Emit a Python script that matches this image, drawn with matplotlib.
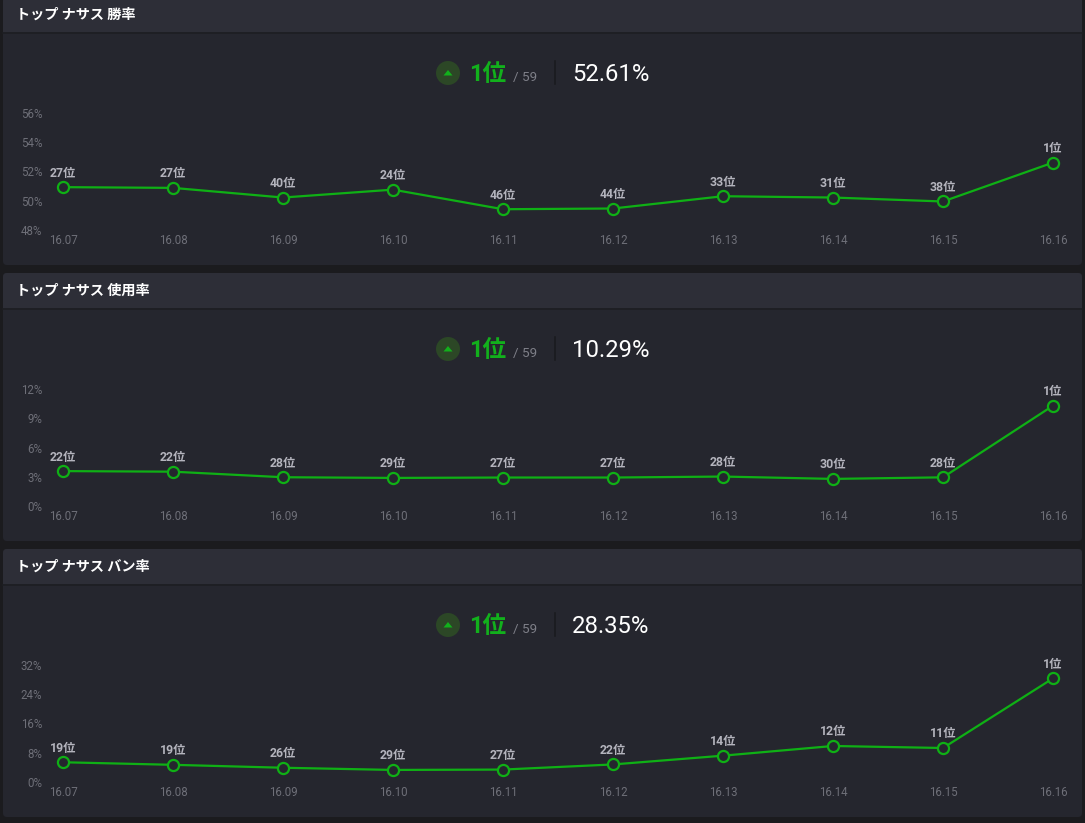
import matplotlib
matplotlib.use("Agg")
import matplotlib.pyplot as plt
from matplotlib.patches import FancyBboxPatch, Rectangle, Circle, Polygon

# ---------------- data ----------------
patches_lbl = ["16.07", "16.08", "16.09", "16.10", "16.11", "16.12", "16.13", "16.14", "16.15", "16.16"]

titles = ["トップ ナサス 勝率", "トップ ナサス 使用率", "トップ ナサス バン率"]
current_rank = ["1位", "1位", "1位"]
total_count = "/ 59"
current_value = ["52.61%", "10.29%", "28.35%"]

win_rate = [50.93, 50.88, 50.22, 50.76, 49.42, 49.47, 50.31, 50.22, 49.95, 52.61]
win_rank = ["27位", "27位", "40位", "24位", "46位", "44位", "33位", "31位", "38位", "1位"]
win_ticks = [48, 50, 52, 54, 56]

pick_rate = [3.58, 3.52, 2.95, 2.88, 2.92, 2.92, 3.02, 2.78, 2.94, 10.29]
pick_rank = ["22位", "22位", "28位", "29位", "27位", "27位", "28位", "30位", "28位", "1位"]
pick_ticks = [0, 3, 6, 9, 12]

ban_rate = [5.4, 4.7, 3.9, 3.3, 3.4, 4.8, 7.2, 9.85, 9.3, 28.35]
ban_rank = ["19位", "19位", "26位", "29位", "27位", "22位", "14位", "12位", "11位", "1位"]
ban_ticks = [0, 8, 16, 24, 32]

series = [(win_rate, win_rank, win_ticks),
          (pick_rate, pick_rank, pick_ticks),
          (ban_rate, ban_rank, ban_ticks)]

# ---------------- style ----------------
W, H = 1085, 823
FIG_BG = "#1b1b1e"
BODY = "#25262e"
HEADER = "#2d2e37"
HEADER_LINE = "#1d1e23"
GREEN = "#12b01c"
LINE_GREEN = "#0fb015"
BADGE = "#2c4726"
TICK_C = "#6e6f78"
RANK_C = "#b4b4bd"

JP = ["Noto Sans CJK JP", "DejaVu Sans"]
NUM = ["Roboto", "Noto Sans CJK JP", "DejaVu Sans"]

fig = plt.figure(figsize=(W / 100, H / 100), dpi=100, facecolor=FIG_BG)
bg = fig.add_axes([0, 0, 1, 1])
bg.set_xlim(0, W)
bg.set_ylim(H, 0)
bg.axis("off")

panel_tops = [-3, 273, 549]
panel_h = 268
left, right = 3, 1082
x0_px, x1_px = 63, 1053

for i, top in enumerate(panel_tops):
    # panel body
    bg.add_patch(FancyBboxPatch((left, top), right - left, panel_h,
                                boxstyle="round,pad=0,rounding_size=4",
                                fc=BODY, ec="none", zorder=1))
    # header
    bg.add_patch(FancyBboxPatch((left, top), right - left, 35,
                                boxstyle="round,pad=0,rounding_size=4",
                                fc=HEADER, ec="none", zorder=2))
    bg.add_patch(Rectangle((left, top + 20), right - left, 15,
                           fc=HEADER, ec="none", zorder=2))
    bg.plot([left, right], [top + 35.5, top + 35.5], color=HEADER_LINE, lw=1.2, zorder=3)
    bg.text(16, top + 18, titles[i], fontsize=10.2, fontweight="bold", color="white",
            family=JP, ha="left", va="center", zorder=4)

    # summary row
    cy = top + 76
    bg.add_patch(Circle((448, cy), 12, fc=BADGE, ec="none", zorder=3))
    bg.add_patch(Polygon([(443.5, cy + 2.5), (452.5, cy + 2.5), (448, cy - 3)],
                         closed=True, fc=GREEN, ec="none", zorder=4))
    base = top + 84
    bg.text(469, base, current_rank[i], fontsize=17, fontweight="bold", color=GREEN,
            family=NUM, ha="left", va="baseline", zorder=4)
    bg.text(513, base, total_count, fontsize=9.7, color="#7e7f88",
            family=NUM, ha="left", va="baseline", zorder=4)
    bg.plot([555, 555], [top + 64, top + 87], color="#1a1b1f", lw=1.2, zorder=3)
    bg.text(572, base, current_value[i], fontsize=17.2, color="white",
            family=NUM, ha="left", va="baseline", zorder=4)

    # chart axes
    vals, ranks, ticks = series[i]
    ax_top = top + 116
    ax_bot = ax_top + 117
    ax = fig.add_axes([x0_px / W, 1 - ax_bot / H, (x1_px - x0_px) / W, (ax_bot - ax_top) / H])
    ax.set_facecolor("none")
    ax.set_xlim(0, len(patches_lbl) - 1)
    ax.set_ylim(ticks[0], ticks[-1])
    for s in ax.spines.values():
        s.set_visible(False)
    xs = list(range(len(vals)))
    ax.plot(xs, vals, color=LINE_GREEN, lw=1.6, clip_on=False, zorder=3,
            marker="o", markersize=8, markerfacecolor=BODY,
            markeredgecolor=LINE_GREEN, markeredgewidth=1.6)
    for x, v, r in zip(xs, vals, ranks):
        ax.annotate(r, (x, v), xytext=(0, 14), textcoords="offset pixels",
                    ha="center", va="center", fontsize=8.8, fontweight="bold",
                    color=RANK_C, family=NUM, annotation_clip=False)
    ax.set_xticks(xs)
    ax.set_xticklabels(patches_lbl, family=NUM, fontsize=8.3, color=TICK_C)
    ax.set_yticks(ticks)
    ax.set_yticklabels([f"{t}%" for t in ticks], family=NUM, fontsize=8.3, color=TICK_C)
    ax.tick_params(axis="x", length=0, pad=3.0)
    ax.tick_params(axis="y", length=0, pad=15)

fig.savefig("out.png", dpi=100, facecolor=FIG_BG)
